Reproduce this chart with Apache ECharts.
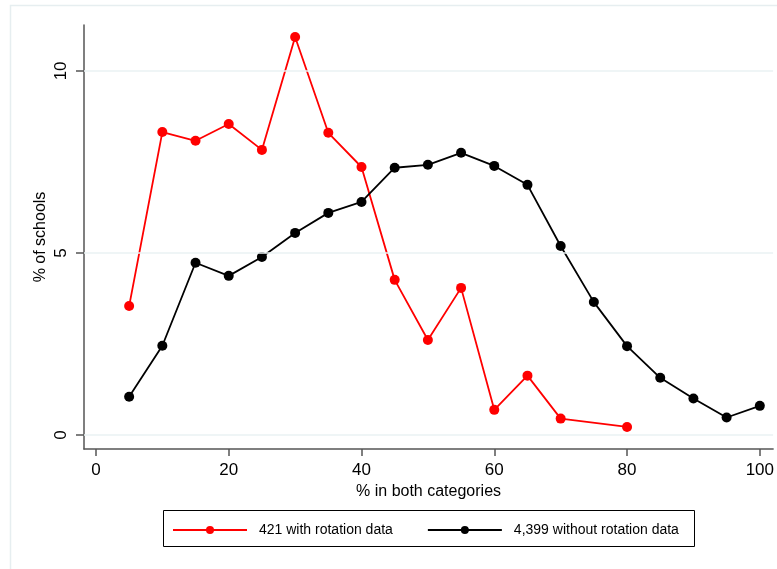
<!DOCTYPE html>
<html>
<head>
<meta charset="utf-8">
<script src="https://cdn.jsdelivr.net/npm/echarts@6/dist/echarts.min.js"></script>
<style>
html, body { margin: 0; padding: 0; background: #fff; }
#chart { width: 777px; height: 569px; }
</style>
</head>
<body>
<div id="chart"></div>
<script>
var xTicks = [0, 20, 40, 60, 80, 100];
var yTicks = [0, 5, 10];

var redX = [5, 10, 15, 20, 25, 30, 35, 40, 45, 50, 55, 60, 65, 70, 80];
var redY = [3.54, 8.32, 8.08, 8.54, 7.83, 10.93, 8.30, 7.36, 4.26, 2.61, 4.04, 0.69, 1.63, 0.45, 0.22];

var blackX = [5, 10, 15, 20, 25, 30, 35, 40, 45, 50, 55, 60, 65, 70, 75, 80, 85, 90, 95, 100];
var blackY = [1.05, 2.45, 4.73, 4.37, 4.89, 5.55, 6.10, 6.40, 7.34, 7.42, 7.75, 7.39, 6.87, 5.19, 3.65, 2.44, 1.57, 1.00, 0.48, 0.80];

function pairs(xs, ys) {
    return xs.map(function (x, i) { return [x, ys[i]]; });
}

var font = 'Liberation Sans, Arial, sans-serif';
var axisCol = '#555';

var option = {
    animation: false,
    backgroundColor: '#fff',
    textStyle: { fontFamily: font },
    graphic: [
        {
            type: 'rect',
            shape: { x: 10.5, y: 5.5, width: 800, height: 600 },
            style: { fill: 'none', stroke: '#e6eef0', lineWidth: 1.5 },
            silent: true
        },
        {
            type: 'rect',
            shape: { x: 163.5, y: 510.5, width: 531, height: 36 },
            style: { fill: 'none', stroke: '#000', lineWidth: 1 },
            silent: true
        }
    ],
    grid: { left: 84, right: 2, top: 25, bottom: 120 },
    legend: {
        left: 172,
        top: 523,
        padding: 0,
        itemWidth: 74,
        itemHeight: 10,
        itemGap: 34,
        textStyle: { fontSize: 14, color: '#000', fontFamily: font, padding: [0, 0, 0, 7] },
        data: ['421 with rotation data', '4,399 without rotation data']
    },
    xAxis: {
        type: 'value',
        min: -1.8,
        max: 102,
        name: '% in both categories',
        nameLocation: 'middle',
        nameGap: 35,
        nameMoveOverlap: false,
        nameTextStyle: { fontSize: 16, color: '#000' },
        axisLine: { show: true, onZero: false, lineStyle: { color: axisCol, width: 1.5 } },
        axisTick: { show: true, length: 7, customValues: xTicks, lineStyle: { color: axisCol, width: 1.5 } },
        axisLabel: { customValues: xTicks, fontSize: 17, color: '#000', margin: 13 },
        splitLine: { show: false }
    },
    yAxis: {
        type: 'value',
        min: -0.385,
        max: 11.26,
        name: '% of schools',
        nameLocation: 'middle',
        nameGap: 35,
        nameMoveOverlap: false,
        nameTextStyle: { fontSize: 16, color: '#000' },
        axisLine: { show: true, onZero: false, lineStyle: { color: axisCol, width: 1.5 } },
        axisTick: { show: true, length: 8, customValues: yTicks, lineStyle: { color: axisCol, width: 1.5 } },
        axisLabel: { customValues: yTicks, fontSize: 17, color: '#000', margin: 14, rotate: 90 },
        splitLine: { show: false }
    },
    series: [
        {
            name: 'grid',
            type: 'line',
            data: [],
            silent: true,
            markLine: {
                silent: true,
                symbol: 'none',
                label: { show: false },
                lineStyle: { color: '#eaf2f3', width: 1.5, type: 'solid' },
                data: yTicks.map(function (v) { return { yAxis: v }; })
            }
        },
        {
            name: '421 with rotation data',
            type: 'line',
            data: pairs(redX, redY),
            symbol: 'circle',
            symbolSize: 10,
            color: '#ff0000',
            lineStyle: { color: '#ff0000', width: 1.8 },
            itemStyle: { color: '#ff0000' },
            z: 3
        },
        {
            name: '4,399 without rotation data',
            type: 'line',
            data: pairs(blackX, blackY),
            symbol: 'circle',
            symbolSize: 10,
            color: '#000',
            lineStyle: { color: '#000', width: 1.8 },
            itemStyle: { color: '#000' },
            z: 4
        }
    ]
};

var myChart = echarts.init(document.getElementById('chart'));
myChart.setOption(option);
</script>
</body>
</html>
